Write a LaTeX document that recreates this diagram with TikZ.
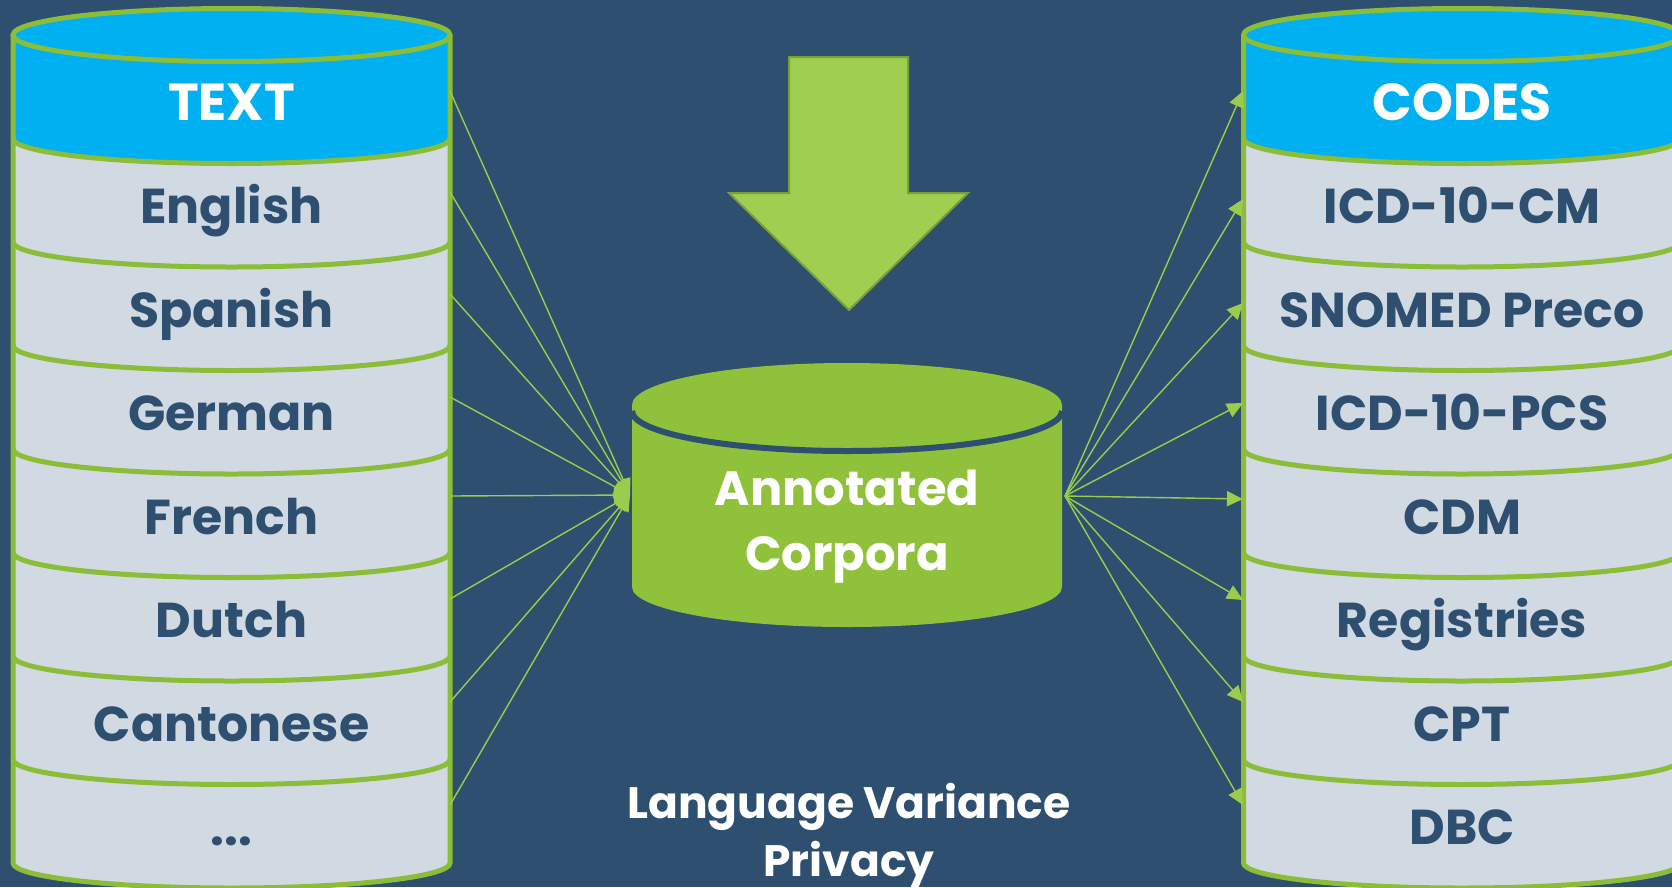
\documentclass[tikz,border=0pt]{standalone}
\usepackage{fontspec}
\setmainfont{Poppins}
\usetikzlibrary{arrows.meta}

\definecolor{bgblue}{RGB}{46,79,112}
\definecolor{labblue}{RGB}{46,79,112}
\definecolor{topcyan}{RGB}{0,176,240}
\definecolor{bandgrey}{RGB}{209,217,226}
\definecolor{rimgreen}{RGB}{139,189,56}
\definecolor{corpgreen}{RGB}{143,194,58}
\definecolor{linkgreen}{RGB}{155,204,75}
\definecolor{arrowfill}{RGB}{160,206,80}
\definecolor{arrowedge}{RGB}{118,160,56}

\begin{document}
\begin{tikzpicture}[x=1pt, y=1pt,
        lab/.style={anchor=base, inner sep=0pt, font=\fontsize{49}{58}\selectfont\bfseries, text=labblue},
        head/.style={lab, font=\fontsize{52}{60}\selectfont\bfseries, text=white},
        white text/.style={anchor=base, inner sep=0pt, font=\fontsize{48}{56}\selectfont\bfseries, text=white},
        rim/.style={draw=rimgreen, line width=5pt},
        link/.style={draw=linkgreen, line width=1.4pt, -{Triangle[length=16pt, width=15pt]}}]

    \useasboundingbox (0,0) rectangle (1672,-887);
    \fill[bgblue] (0,0) rectangle (1672,-887);
    \clip (0,0) rectangle (1672,-887);

    % the two stacked cylinders
    \foreach \cx in {231.5, 1462} {
        \fill[bandgrey] (\cx-218.5,-35) -- (\cx-218.5,-863)
            arc[start angle=180, end angle=360, x radius=218.5, y radius=25] -- (\cx+218.5,-35) -- cycle;
        \fill[topcyan] (\cx-218.5,-35) -- (\cx-218.5,-138.5)
            arc[start angle=180, end angle=360, x radius=218.5, y radius=25] -- (\cx+218.5,-35)
            arc[start angle=0, end angle=180, x radius=218.5, y radius=26.5] -- cycle;
        \foreach \k in {0,...,6}
            \draw[rim] (\cx-218.5,-138.5-103.5*\k) arc[start angle=180, end angle=360, x radius=218.5, y radius=25];
        \draw[rim] (\cx,-35) ellipse[x radius=218.5, y radius=26.5];
        \draw[rim] (\cx-218.5,-35) -- (\cx-218.5,-863)
            arc[start angle=180, end angle=360, x radius=218.5, y radius=25] -- (\cx+218.5,-35);
    }

    \node[head] (text) at (231.5,-120) {TEXT};
    \foreach \name/\word [count=\i] in {eng/English, spa/Spanish, ger/German, fre/French, dut/Dutch, can/Cantonese}
        \node[lab] (\name) at (231.5,-120-103.5*\i) {\word};
    \node[lab] (more) at (231.5,-845) {...};

    \node[head] (codes) at (1462,-120) {CODES};
    \foreach \name/\word [count=\i] in {icdcm/ICD-10-CM, snomed/SNOMED Preco, icdpcs/ICD-10-PCS, cdm/CDM, reg/Registries, cpt/CPT, dbc/DBC}
        \node[lab] (\name) at (1462,-120-103.5*\i) {\word};

    % annotated corpora
    \fill[corpgreen] (632,-405) -- (632,-587)
        arc[start angle=180, end angle=360, x radius=215, y radius=40] -- (1062,-405)
        arc[start angle=0, end angle=180, x radius=215, y radius=42] -- cycle;
    \draw[bgblue, line width=6pt] (632,-411) arc[start angle=180, end angle=360, x radius=215, y radius=40];
    \node[white text] (corp1) at (847,-505) {Annotated};
    \node[white text] (corp2) at (847,-570) {Corpora};

    % down arrow
    \filldraw[fill=arrowfill, draw=arrowedge, line width=2pt]
        (789,-57) -- (908,-57) -- (908,-193) -- (968,-193) -- (849,-310)
        -- (729,-193) -- (789,-193) -- cycle;

    \node[white text, font=\fontsize{44}{52}\selectfont\bfseries] (lang) at (849,-818) {Language Variance};
    \node[white text, font=\fontsize{44}{52}\selectfont\bfseries] (priv) at (849,-876) {Privacy};

    % connectors
    \coordinate (cin)  at (630,-495);
    \coordinate (cout) at (1065,-496);
    \foreach \y [count=\i] in {91,192,294,397,496,599,702,805} {
        \coordinate (l\i) at (450,-\y);
        \draw[link] (l\i) -- (cin);
    }
    \foreach \y [count=\i] in {91,199,303,403,499,600,702,805} {
        \coordinate (r\i) at (1243,-\y);
        \draw[link] (cout) -- (r\i);
    }

\end{tikzpicture}
\end{document}
